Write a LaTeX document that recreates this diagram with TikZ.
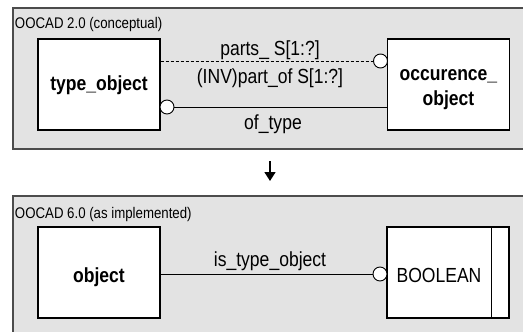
\documentclass[tikz,border=0pt]{standalone}
\usepackage{fontspec}
\setmainfont{Liberation Sans}[FakeStretch=0.86]
\usetikzlibrary{arrows.meta}
\usetikzlibrary{positioning}
\newcommand{\lblfont}{\fontsize{20.4}{25}\selectfont}
\newcommand{\panelfont}{\fontsize{15.4}{17}\selectfont}
\tikzset{
every picture/.style={x=1pt, y=-1pt, line width=1pt},
%%%%%%%%%%  panels and boxes
panel/.style={fill=black!11, draw=black!70, line width=1.3pt},
paneltitle/.style={anchor=west, inner sep=0pt, font=\panelfont},
entity/.style={draw, fill=white, line width=1.2pt, inner sep=0pt,
               minimum width=122pt, minimum height=91pt, font=\lblfont\bfseries,
               text height=16.5pt, text depth=4pt},
lowentity/.style={entity, text height=24pt},
basetype/.style={lowentity, font=\lblfont},
ring/.style={circle, draw, fill=white, line width=0.9pt, inner sep=0pt,
             minimum size=14pt},
%%%%%%%%%%  connectors
relation/.style={line width=0.9pt},
inverse/.style={relation, dash pattern=on 3pt off 2pt},
rolename/.style={inner sep=0pt, font=\lblfont},
mapsto/.style={line width=1.6pt, -{Triangle[length=9pt,width=11pt]}}
}

\begin{document}
\begin{tikzpicture}
\useasboundingbox (0,0) rectangle (523,332);
\clip (0,0) rectangle (523,332);
% the two schema panels
\draw[panel] (13,8) rectangle (540,149);
\draw[panel] (13,196) rectangle (540,345);
\node[paneltitle] (title20) at (14.5,25) {OOCAD 2.0 (conceptual)};
\node[paneltitle] (title60) at (14.5,215) {OOCAD 6.0 (as implemented)};

% version 2.0
\node[entity] (type) at (99,84.5) {type\_object};
\node[entity, text height=, text depth=] (occ) at (448.5,84.5)
  {\raisebox{0pt}[41pt][0pt]{\begin{tabular}[b]{@{}c@{}}occurence\_\\object\end{tabular}}};
\node[ring] (partsring) at (380.5,61) {};
\node[ring] (typering) at (167,107) {};
\draw[inverse] (type.east |- partsring) -- (partsring);
\draw[relation] (typering) -- (typering -| occ.west);
\node[rolename] (parts) at (270,50) {parts\_ S[1:?]};
\node[rolename] (partof) at (270,78) {(INV)part\_of S[1:?]};
\node[rolename] (oftype) at (273,124) {of\_type};

% migration
\coordinate (arrtop) at (270,161);
\coordinate (arrbot) at (270,181);
\draw[mapsto] (arrtop) -- (arrbot);

% version 6.0
\node[lowentity] (obj) at (99,272.5) {object};
\node[basetype] (bool) at (448,272.5) {BOOLEAN\kern18pt};
\draw[line width=1.2pt] ([xshift=-18pt]bool.north east) -- ([xshift=-18pt]bool.south east);
\node[ring] (boolring) at (380,274) {};
\draw[relation] (obj.east |- boolring) -- (boolring);
\node[rolename] (istype) at (270,261) {is\_type\_object};
\end{tikzpicture}
\end{document}
